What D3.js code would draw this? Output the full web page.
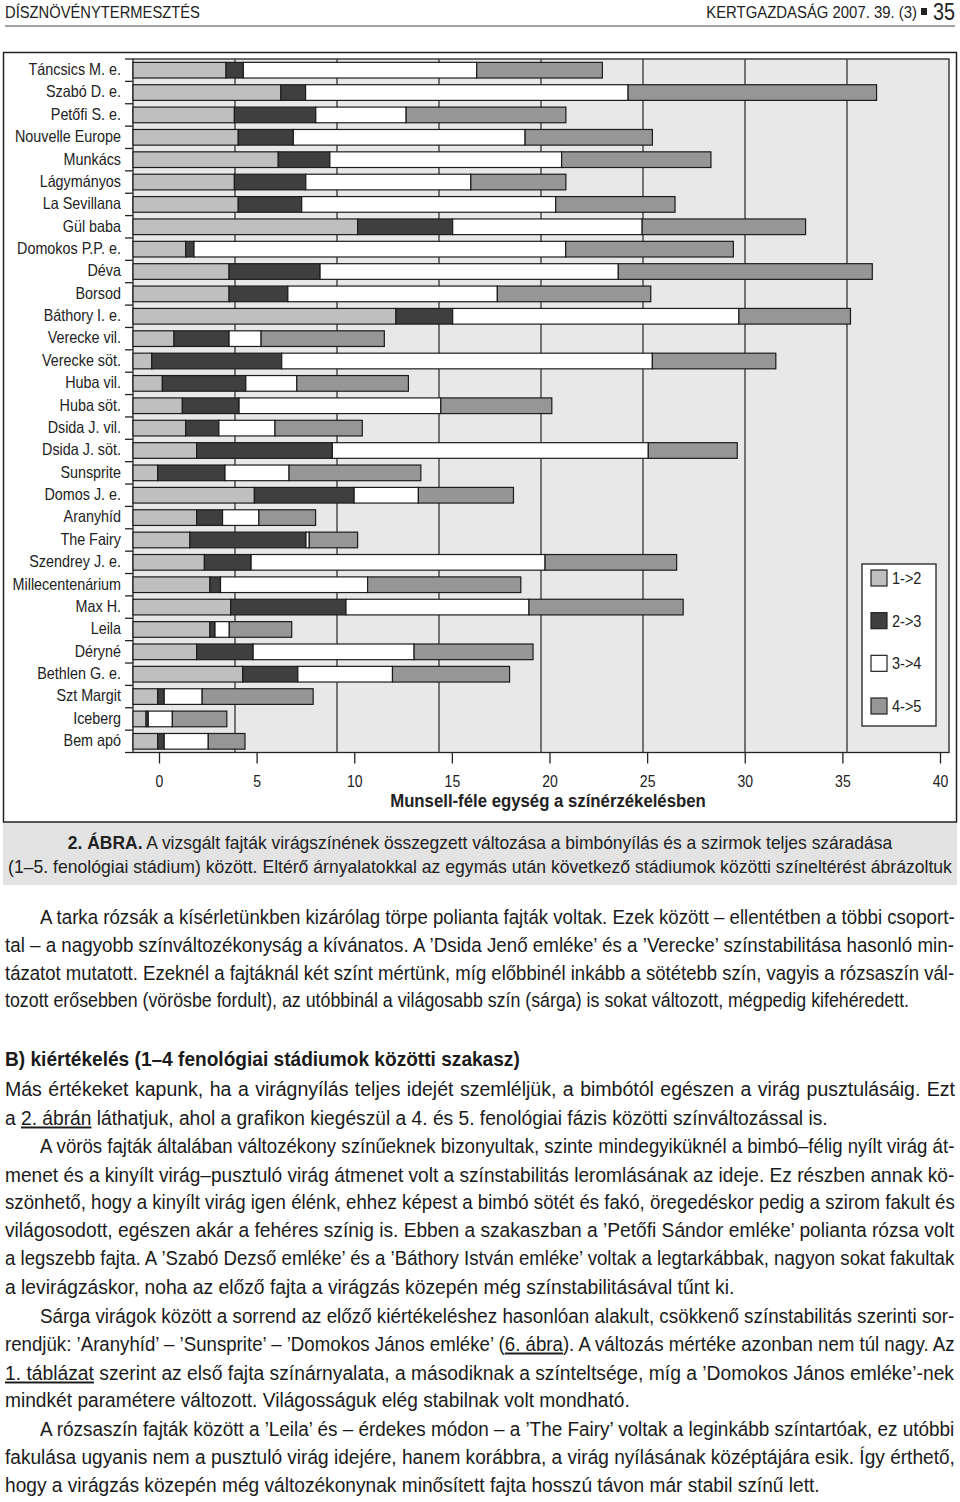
<!DOCTYPE html>
<html><head><meta charset="utf-8">
<script src="https://cdn.jsdelivr.net/npm/d3@7"></script>
<style>html,body{margin:0;padding:0;background:#fff;} svg{display:block;}</style>
</head><body>
<svg id="page" width="960" height="1502"></svg>
<script>
const categories = ["Táncsics M. e.","Szabó D. e.","Petőfi S. e.","Nouvelle Europe","Munkács","Lágymányos","La Sevillana","Gül baba","Domokos P.P. e.","Déva","Borsod","Báthory I. e.","Verecke vil.","Verecke söt.","Huba vil.","Huba söt.","Dsida J. vil.","Dsida J. söt.","Sunsprite","Domos J. e.","Aranyhíd","The Fairy","Szendrey J. e.","Millecentenárium","Max H.","Leila","Déryné","Bethlen G. e.","Szt Margit","Iceberg","Bem apó"];
const seriesNames = ["1->2","2->3","3->4","4->5"];
const s12 = [4.56,7.25,4.97,5.16,7.12,4.97,5.16,11.01,2.58,4.71,4.71,12.89,2.01,0.92,1.44,2.42,2.58,3.12,1.21,5.95,3.12,2.79,3.50,3.77,4.79,3.77,3.12,5.38,1.21,0.64,1.21];
const s23 = [0.85,1.21,3.99,2.70,2.53,3.50,3.11,4.66,0.41,4.46,2.88,2.78,2.70,6.37,4.09,2.78,1.63,6.65,3.30,4.89,1.27,5.69,2.29,0.52,5.65,0.25,2.77,2.70,0.32,0.11,0.32];
const s34 = [11.44,15.81,4.43,11.36,11.36,8.09,12.45,9.29,18.22,14.62,10.27,14.03,1.57,18.17,2.50,9.89,2.75,15.49,3.14,3.15,1.78,0.16,14.41,7.21,8.97,0.70,7.89,4.64,1.86,1.18,2.16];
const s45 = [6.16,12.18,7.83,6.24,7.32,4.66,5.85,8.01,8.22,12.45,7.52,5.47,6.04,6.05,5.47,5.44,4.28,4.36,6.46,4.66,2.78,2.37,6.45,7.51,7.56,3.06,5.83,5.74,5.44,2.67,1.80];
const tickValues = [0,5,10,15,20,25,30,35,40];
const xTitle = "Munsell-féle egység a színérzékelésben";

const FONT = "'Liberation Sans Narrow','Arial Narrow','Liberation Sans',Arial,sans-serif";
const svg = d3.select("#page").style("font-family", FONT);
svg.append("rect").attr("width",960).attr("height",1502).attr("fill","#fff");

// horizontal squeeze around an anchor point (mimics a narrow typeface)
function scaleX(sel, f, ax) {
  sel.attr("transform", `translate(${ax},0) scale(${f},1) translate(${-ax},0)`);
}
function fit(sel, target, justify, ax) {
  const node = sel.node();
  const w = node.getComputedTextLength();
  const spaces = (node.textContent.match(/ /g) || []).length;
  if (justify && w < target && spaces) {
    sel.style("word-spacing", ((target - w) / spaces) + "px");
  } else {
    scaleX(sel, target / w, ax);
  }
}
function narrow(sel, factor, axFn) {
  sel.each(function(d, i) { scaleX(d3.select(this), factor, axFn(this)); });
}

// header
const h1 = svg.append("text").attr("x",5).attr("y",18).attr("font-size",17).attr("fill","#222").text("DÍSZNÖVÉNYTERMESZTÉS");
fit(h1, 195, false, 5);
const h2 = svg.append("text").attr("x",917).attr("y",18).attr("font-size",17).attr("fill","#222").attr("text-anchor","end").text("KERTGAZDASÁG 2007. 39. (3)");
fit(h2, 211, false, 917);
svg.append("rect").attr("x",921).attr("y",8).attr("width",6).attr("height",7).attr("fill","#222");
const h3 = svg.append("text").attr("x",933).attr("y",20).attr("font-size",23).attr("fill","#222").text("35");
fit(h3, 22, false, 933);
svg.append("line").attr("x1",5).attr("x2",955).attr("y1",26).attr("y2",26).attr("stroke","#444").attr("stroke-width",1);

// chart box and caption background
svg.append("rect").attr("x",3).attr("y",822).attr("width",954).attr("height",63).attr("fill","#e3e3e3");
svg.append("rect").attr("x",3.5).attr("y",52.5).attr("width",953).attr("height",769.5).attr("fill","#fff").attr("stroke","#222").attr("stroke-width",1.5);

// scales
const x = d3.scaleLinear().domain([0,40]).range([133,949]);
const xPrinted = d3.scaleLinear().domain([0,40]).range([159,940]);
const y = d3.scaleBand().domain(categories).range([59,752.5]).paddingInner(0.3).paddingOuter(0.15);
const colors = d3.scaleOrdinal().domain(seriesNames).range(["#bfbfbf","#3f3f3f","#ffffff","#969696"]);

// plot area
svg.append("rect").attr("x",x(0)).attr("y",59).attr("width",x(40)-x(0)).attr("height",693.5).attr("fill","#e8e8e8").attr("stroke","#222").attr("stroke-width",1.3);
svg.append("g").selectAll("line").data(tickValues.filter(v => v > 0 && v < 40)).join("line")
  .attr("x1", d => x(d)).attr("x2", d => x(d)).attr("y1",59).attr("y2",752.5)
  .attr("stroke","#333").attr("stroke-width",1.3);

// bars
const table = categories.map((c,i) => ({cat:c, "1->2":s12[i], "2->3":s23[i], "3->4":s34[i], "4->5":s45[i]}));
const stacked = d3.stack().keys(seriesNames)(table);
svg.append("g").selectAll("g").data(stacked).join("g")
  .attr("fill", d => colors(d.key))
  .selectAll("rect").data(d => d).join("rect")
  .attr("x", d => x(d[0])).attr("width", d => x(d[1]) - x(d[0]))
  .attr("y", d => y(d.data.cat)).attr("height", y.bandwidth())
  .attr("stroke","#1c1c1c").attr("stroke-width",1.2);

// y ticks at band boundaries and labels
const bounds = d3.range(categories.length + 1).map(i => 59 + i * (693.5 / categories.length));
svg.append("g").selectAll("line").data(bounds).join("line")
  .attr("x1",125).attr("x2",x(0)).attr("y1", d => d).attr("y2", d => d)
  .attr("stroke","#222").attr("stroke-width",1.3);
const catLabels = svg.append("g").selectAll("text").data(categories).join("text")
  .attr("x",121).attr("y", d => y(d) + y.bandwidth()/2 - 1)
  .attr("text-anchor","end").attr("dominant-baseline","central")
  .attr("font-size",16.5).attr("fill","#222").text(d => d);
narrow(catLabels, 0.87, () => 121);

// printed bottom axis
const axisG = svg.append("g").attr("transform","translate(0,752.5)");
axisG.call(d3.axisBottom(xPrinted).tickValues(tickValues).tickSize(11).tickPadding(12).tickFormat(d3.format("d")));
axisG.select(".domain").remove();
axisG.selectAll(".tick line").attr("stroke","#222").attr("stroke-width",1.3);
axisG.selectAll(".tick text").attr("font-size",16.5).attr("fill","#222").attr("font-family",FONT);
narrow(axisG.selectAll(".tick text"), 0.85, () => 0);

const at = svg.append("text").attr("x",548).attr("y",807).attr("text-anchor","middle")
  .attr("font-size",18).attr("font-weight","bold").attr("fill","#222").text(xTitle);
fit(at, 316, false, 548);

// legend
const lg = svg.append("g");
lg.append("rect").attr("x",862).attr("y",564).attr("width",74).attr("height",162).attr("fill","#fff").attr("stroke","#222").attr("stroke-width",1.3);
const ly = d3.scalePoint().domain(seriesNames).range([578,706]);
lg.selectAll("rect.sw").data(seriesNames).join("rect").attr("class","sw")
  .attr("x",871).attr("y", d => ly(d) - 8).attr("width",16).attr("height",16)
  .attr("fill", d => colors(d)).attr("stroke","#222").attr("stroke-width",1.2);
const legTexts = lg.selectAll("text").data(seriesNames).join("text")
  .attr("x",892).attr("y", d => ly(d)).attr("dominant-baseline","central")
  .attr("font-size",16.5).attr("fill","#222").text(d => d);
narrow(legTexts, 0.88, () => 892);

// caption
const c1 = svg.append("text").attr("x",480).attr("y",849).attr("text-anchor","middle").attr("font-size",18).attr("fill","#222");
c1.append("tspan").attr("font-weight","bold").text("2. ÁBRA.");
c1.append("tspan").text(" A vizsgált fajták virágszínének összegzett változása a bimbónyílás és a szirmok teljes száradása");
fit(c1, 825, false, 480);
const c2 = svg.append("text").attr("x",480).attr("y",873).attr("text-anchor","middle").attr("font-size",18).attr("fill","#222")
  .text("(1–5. fenológiai stádium) között. Eltérő árnyalatokkal az egymás után következő stádiumok közötti színeltérést ábrázoltuk");
fit(c2, 944, false, 480);

// body text
const body = [
 {x:40, y:918, w:915, j:true, s:[["A tarka rózsák a kísérletünkben kizárólag törpe polianta fajták voltak. Ezek között – ellentétben a többi csoport-"]]},
 {x:5, y:946, w:950, j:true, s:[["tal – a nagyobb színváltozékonyság a kívánatos. A ’Dsida Jenő emléke’ és a ’Verecke’ színstabilitása hasonló min-"]]},
 {x:5, y:974, w:950, j:true, s:[["tázatot mutatott. Ezeknél a fajtáknál két színt mértünk, míg előbbinél inkább a sötétebb szín, vagyis a rózsaszín vál-"]]},
 {x:5, y:1001, w:905, j:false, s:[["tozott erősebben (vörösbe fordult), az utóbbinál a világosabb szín (sárga) is sokat változott, mégpedig kifehéredett."]]},
 {x:5, y:1060, w:515, j:false, b:true, s:[["B) kiértékelés (1–4 fenológiai stádiumok közötti szakasz)"]]},
 {x:5, y:1089, w:950, j:true, s:[["Más értékeket kapunk, ha a virágnyílás teljes idejét szemléljük, a bimbótól egészen a virág pusztulásáig. Ezt"]]},
 {x:5, y:1119, w:823, j:false, s:[["a "],["2. ábrán",1],[" láthatjuk, ahol a grafikon kiegészül a 4. és 5. fenológiai fázis közötti színváltozással is."]]},
 {x:40, y:1147, w:915, j:true, s:[["A vörös fajták általában változékony színűeknek bizonyultak, szinte mindegyiküknél a bimbó–félig nyílt virág át-"]]},
 {x:5, y:1176, w:950, j:true, s:[["menet és a kinyílt virág–pusztuló virág átmenet volt a színstabilitás leromlásának az ideje. Ez részben annak kö-"]]},
 {x:5, y:1203, w:950, j:true, s:[["szönhető, hogy a kinyílt virág igen élénk, ehhez képest a bimbó sötét és fakó, öregedéskor pedig a szirom fakult és"]]},
 {x:5, y:1231, w:950, j:true, s:[["világosodott, egészen akár a fehéres színig is. Ebben a szakaszban a ’Petőfi Sándor emléke’ polianta rózsa volt"]]},
 {x:5, y:1259, w:950, j:true, s:[["a legszebb fajta. A ’Szabó Dezső emléke’ és a ’Báthory István emléke’ voltak a legtarkábbak, nagyon sokat fakultak"]]},
 {x:5, y:1288, w:730, j:false, s:[["a levirágzáskor, noha az előző fajta a virágzás közepén még színstabilitásával tűnt ki."]]},
 {x:40, y:1317, w:915, j:true, s:[["Sárga virágok között a sorrend az előző kiértékeléshez hasonlóan alakult, csökkenő színstabilitás szerinti sor-"]]},
 {x:5, y:1345, w:950, j:true, s:[["rendjük: ’Aranyhíd’ – ’Sunsprite’ – ’Domokos János emléke’ ("],["6. ábra",1],["). A változás mértéke azonban nem túl nagy. Az"]]},
 {x:5, y:1374, w:950, j:true, s:[["1. táblázat",1],[" szerint az első fajta színárnyalata, a másodiknak a színteltsége, míg a ’Domokos János emléke’-nek"]]},
 {x:5, y:1401, w:625, j:false, s:[["mindkét paramétere változott. Világosságuk elég stabilnak volt mondható."]]},
 {x:40, y:1430, w:915, j:true, s:[["A rózsaszín fajták között a ’Leila’ és – érdekes módon – a ’The Fairy’ voltak a leginkább színtartóak, ez utóbbi"]]},
 {x:5, y:1458, w:950, j:true, s:[["fakulása ugyanis nem a pusztuló virág idejére, hanem korábbra, a virág nyílásának középtájára esik. Így érthető,"]]},
 {x:5, y:1486, w:815, j:false, s:[["hogy a virágzás közepén még változékonynak minősített fajta hosszú távon már stabil színű lett."]]}
];
body.forEach(l => {
  const t = svg.append("text").attr("x", l.x).attr("y", l.y + 6.5).attr("font-size",19.5).attr("fill","#1a1a1a")
    .attr("font-weight", l.b ? "bold" : "normal");
  l.s.forEach(seg => {
    const ts = t.append("tspan").text(seg[0]);
    if (seg[1]) ts.attr("text-decoration","underline");
  });
  fit(t, l.w, l.j, l.x);
});
</script>
</body></html>
